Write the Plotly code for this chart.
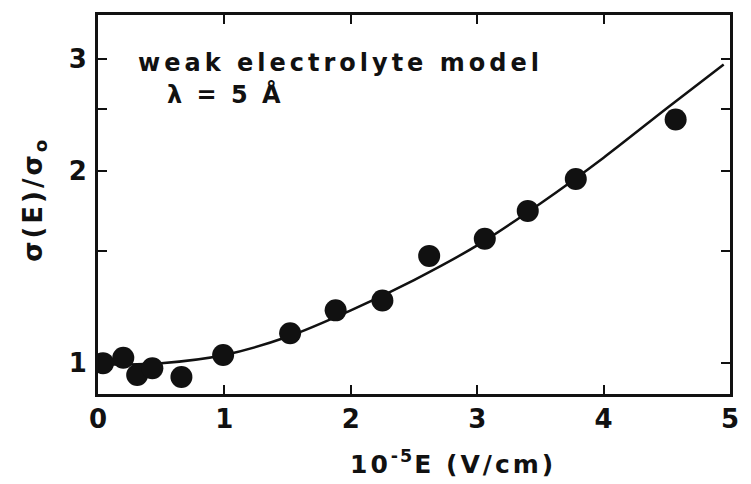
import plotly.graph_objects as go

# Measured conductivity ratio vs. field strength
field = [0.04, 0.20, 0.31, 0.43, 0.66, 0.99, 1.52, 1.88, 2.25, 2.62, 3.06, 3.40, 3.78, 4.57]
ratio = [1.00, 1.02, 0.958, 0.982, 0.951, 1.03, 1.114, 1.21, 1.254, 1.473, 1.567, 1.733, 1.944, 2.41]

# Weak electrolyte model curve (lambda = 5 Angstrom)
model_field = [0.0, 0.5, 1.0, 1.5, 2.0, 2.5, 3.0, 3.5, 4.0, 4.5, 4.95]
model_ratio = [0.995, 1.0, 1.03, 1.10, 1.21, 1.35, 1.53, 1.78, 2.10, 2.51, 2.94]

x_ticks = [0, 1, 2, 3, 4, 5]
y_ticks = [1, 1.5, 2, 2.5, 3]
y_ticktext = ["1", "", "2", "", "3"]

W, H = 751, 484
L, R, T, B = 98, 738, 13, 394

FONT = "DejaVu Sans"
INK = "#111111"

fig = go.Figure()
fig.add_trace(go.Scatter(
    x=model_field, y=model_ratio, mode="lines",
    line=dict(color=INK, width=2.5, shape="spline", smoothing=0.8),
    hoverinfo="skip", showlegend=False,
))
fig.add_trace(go.Scatter(
    x=field, y=ratio, mode="markers",
    marker=dict(color=INK, size=22, line=dict(width=0)),
    showlegend=False,
))


def px(xp, yp):
    return (xp - L) / (R - L), (B - yp) / (B - T)


def spaced(text, gap):
    return f'<span style="letter-spacing:{gap}px">{text}</span>'


ax, ay = px(136, 61)
fig.add_annotation(x=ax, y=ay, xref="paper", yref="paper", xanchor="left", yanchor="middle",
                   text="<b>" + spaced("weak electrolyte model", 4) + "</b>", showarrow=False,
                   font=dict(family=FONT, size=24, color=INK))
ax, ay = px(166, 93)
fig.add_annotation(x=ax, y=ay, xref="paper", yref="paper", xanchor="left", yanchor="middle",
                   text="<b>" + spaced("λ = 5 Å", 3) + "</b>", showarrow=False,
                   font=dict(family=FONT, size=24, color=INK))

x_title = ("<b>" + spaced("10", 3) + "<sup>" + spaced("-5", 2) + "</sup>"
           + spaced("E (V/cm)", 3) + "</b>")
ax, ay = px(457, 463)
fig.add_annotation(x=ax, y=ay, xref="paper", yref="paper", xanchor="center", yanchor="middle",
                   text=x_title, showarrow=False, font=dict(family=FONT, size=25, color=INK))

y_title = ("<b>" + spaced("σ(E)/σ", 3) + "<sub>" + spaced("o", 3) + "</sub></b>")
ax, ay = px(33, 198)
fig.add_annotation(x=ax, y=ay, xref="paper", yref="paper", xanchor="center", yanchor="middle",
                   text=y_title, showarrow=False, textangle=-90,
                   font=dict(family=FONT, size=26, color=INK))

fig.update_layout(
    width=W, height=H,
    margin=dict(l=L, r=W - R, t=T, b=H - B, pad=0),
    paper_bgcolor="white", plot_bgcolor="white",
    font=dict(family=FONT, color=INK),
    xaxis=dict(
        range=[0, 5], tickvals=x_ticks, ticks="inside", ticklen=9, tickwidth=2,
        tickcolor=INK, showline=True, linecolor=INK, linewidth=3, mirror="ticks",
        showgrid=False, zeroline=False, ticklabelstandoff=0,
        tickfont=dict(family=FONT, size=26, color=INK, weight="bold"),
    ),
    yaxis=dict(
        type="log", range=[-0.0484, 0.546], tickvals=y_ticks, ticktext=y_ticktext,
        ticks="inside", ticklen=9, tickwidth=2, tickcolor=INK,
        showline=True, linecolor=INK, linewidth=3, mirror="ticks",
        showgrid=False, zeroline=False, ticklabelstandoff=3,
        tickfont=dict(family=FONT, size=26, color=INK, weight="bold"),
    ),
)

fig.write_html("out.html")
